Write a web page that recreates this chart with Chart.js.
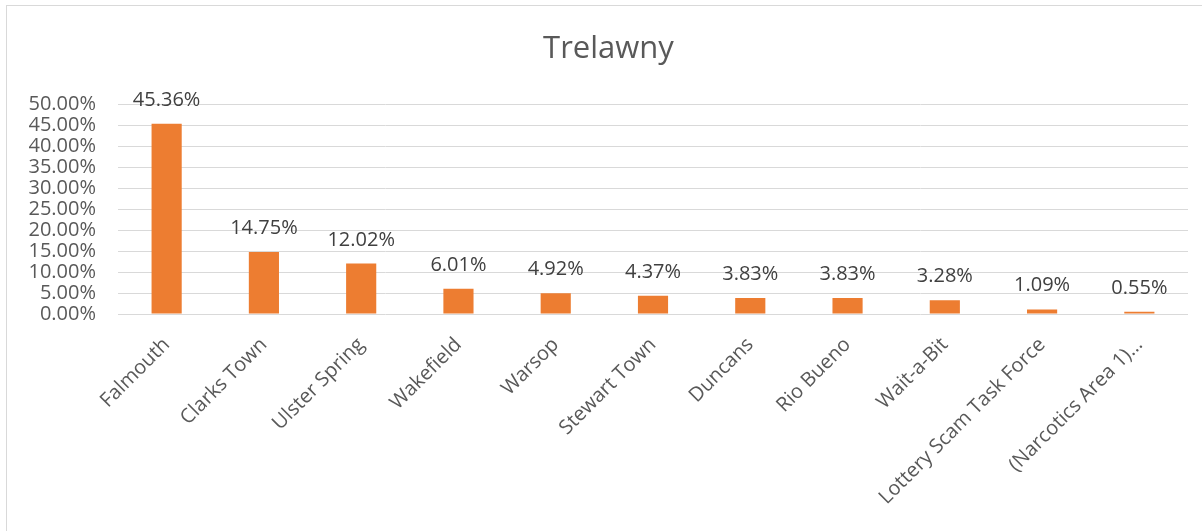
<!DOCTYPE html>
<html>
<head>
<meta charset="utf-8">
<script src="https://cdn.jsdelivr.net/npm/chart.js@4.4.1/dist/chart.umd.min.js"></script>
<style>
  html, body { margin: 0; padding: 0; background: #fff; overflow: hidden; }
  #frame {
    position: absolute; left: 6px; top: 5px;
    width: 1210px; height: 540px;
    border-left: 1px solid #d9d9d9; border-top: 1px solid #d9d9d9;
  }
  #chartBox { position: absolute; left: 0; top: 0; width: 1196px; height: 526px; }
</style>
</head>
<body>
<div id="frame">
  <div id="chartBox"><canvas id="trelawnyChart"></canvas></div>
</div>
<script>
// stations and their share of reports (percent)
const stations = ["Falmouth", "Clarks Town", "Ulster Spring", "Wakefield", "Warsop",
    "Stewart Town", "Duncans", "Rio Bueno", "Wait-a-Bit", "Lottery Scam Task Force",
    "(Narcotics Area 1)…"];
const shares = [45.36, 14.75, 12.02, 6.01, 4.92, 4.37, 3.83, 3.83, 3.28, 1.09, 0.55];

const yMax = 50;
const yStep = 5;

const pctLabel = (v) => v.toFixed(2) + "%";

// writes the value above each bar
const valueLabels = {
    id: "valueLabels",
    afterDatasetsDraw(chart) {
        const ctx = chart.ctx;
        const meta = chart.getDatasetMeta(0);
        const yScale = chart.scales.y;
        ctx.save();
        ctx.font = "20px 'Open Sans'";
        ctx.fillStyle = "#404040";
        ctx.textAlign = "center";
        ctx.textBaseline = "alphabetic";
        meta.data.forEach((bar, i) => {
            const y = yScale.getPixelForValue(shares[i]);
            ctx.fillText(pctLabel(shares[i]), bar.x, y - 18);
        });
        ctx.restore();
    }
};

const ctx = document.getElementById("trelawnyChart");
new Chart(ctx, {
    type: "bar",
    data: {
        labels: stations,
        datasets: [
            {
                data: shares,
                backgroundColor: "#ED7D31",
                borderWidth: 0,
                categoryPercentage: 1,
                barPercentage: 0.31
            }
        ]
    },
    options: {
        responsive: true,
        maintainAspectRatio: false,
        animation: false,
        layout: { padding: { left: 22, right: 15, top: 0, bottom: 0 } },
        plugins: {
            legend: { display: false },
            tooltip: { enabled: false },
            title: {
                display: true,
                text: "Trelawny",
                color: "#595959",
                font: { family: "'Open Sans'", size: 31, weight: "normal" },
                padding: { top: 25, bottom: 36 }
            }
        },
        scales: {
            x: {
                grid: { display: false },
                border: { display: false },
                ticks: {
                    color: "#595959",
                    font: { family: "'Open Sans'", size: 20 },
                    maxRotation: 45,
                    minRotation: 45,
                    autoSkip: false,
                    padding: 11
                },
                afterFit: (scale) => { scale.height = 218; }
            },
            y: {
                min: 0,
                max: yMax,
                grid: { color: "#d9d9d9", lineWidth: 1, drawTicks: false },
                border: { display: false },
                ticks: {
                    stepSize: yStep,
                    autoSkip: false,
                    color: "#595959",
                    font: { family: "'Open Sans'", size: 20 },
                    padding: 22,
                    callback: (v) => pctLabel(v)
                },
                afterFit: (scale) => { scale.width = 89; }
            }
        }
    },
    plugins: [valueLabels]
});
</script>
</body>
</html>
